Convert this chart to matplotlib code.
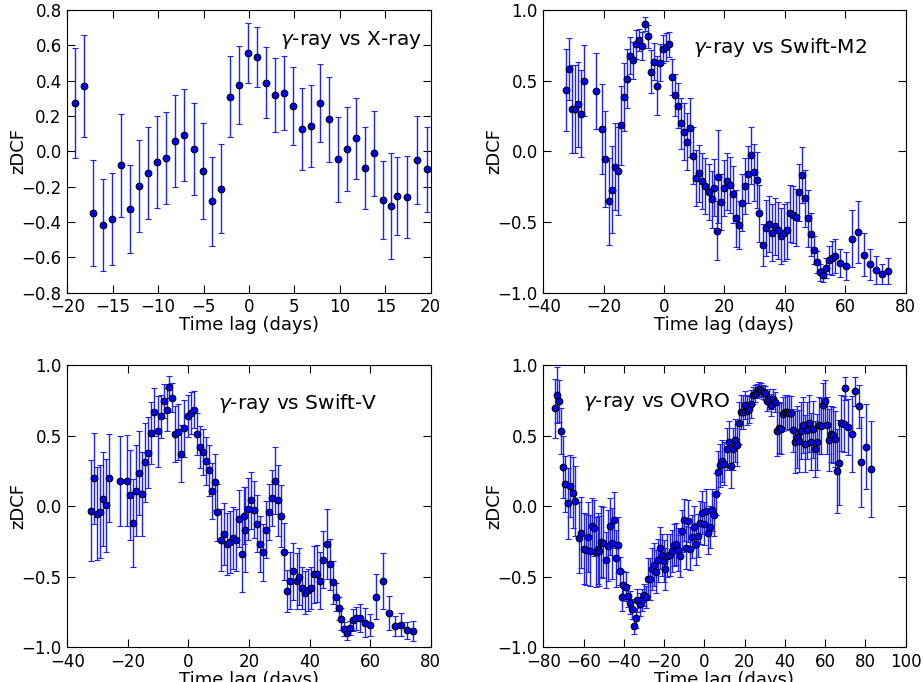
import matplotlib
matplotlib.use("Agg")
import matplotlib.pyplot as plt
import numpy as np

# gamma-ray vs X-ray
xray_lag = [-19.2, -18.2, -17.2, -16.1, -15.1, -14.1, -13.1, -12.1, -11.1, -10.1,
            -9.1, -8.1, -7.1, -6.1, -5.1, -4.1, -3.1, -2.1, -1.1, -0.15,
            0.85, 1.87, 2.86, 3.85, 4.84, 5.8, 6.8, 7.8, 8.8, 9.8,
            10.8, 11.8, 12.8, 13.8, 14.8, 15.6, 16.3, 17.4, 18.5, 19.6]
xray_z = [0.274, 0.37, -0.347, -0.417, -0.385, -0.079, -0.326, -0.194, -0.121, -0.06,
          -0.038, 0.058, 0.094, 0.015, -0.111, -0.283, -0.211, 0.309, 0.377, 0.555,
          0.532, 0.389, 0.321, 0.33, 0.255, 0.126, 0.143, 0.272, 0.181, -0.045,
          0.013, 0.074, -0.094, -0.011, -0.277, -0.308, -0.251, -0.258, -0.049, -0.102]
xray_err = [0.31, 0.29, 0.30, 0.26, 0.26, 0.29, 0.25, 0.26, 0.26, 0.26,
            0.26, 0.26, 0.26, 0.26, 0.27, 0.25, 0.25, 0.23, 0.22, 0.17,
            0.17, 0.20, 0.21, 0.21, 0.22, 0.23, 0.23, 0.22, 0.24, 0.24,
            0.24, 0.23, 0.23, 0.24, 0.22, 0.30, 0.22, 0.23, 0.25, 0.24]

# gamma-ray vs Swift-M2
m2_lag = [-32.5, -31.5, -30.5, -29.4, -28.4, -27.4, -26.4, -22.7, -20.5, -19.4,
          -18.4, -17.4, -16.4, -15.4, -14.4, -13.3, -12.3, -11.3, -10.3, -9.3,
          -8.3, -7.3, -6.3, -5.3, -4.3, -3.2, -2.2, -1.25, -0.26, 0.74,
          1.73, 2.72, 3.72, 4.71, 5.7, 6.7, 7.7, 8.7, 9.7, 10.7,
          11.7, 12.7, 13.7, 14.8, 15.75, 16.7, 17.5, 18.0, 18.7, 19.7,
          20.7, 21.7, 22.7, 23.7, 24.7, 25.7, 26.7, 27.7, 28.7, 29.7,
          30.7, 31.6, 32.6, 33.6, 34.6, 35.6, 36.6, 37.6, 38.6, 39.6,
          40.6, 41.6, 42.6, 43.6, 44.6, 45.6, 46.6, 47.5, 48.5, 49.5,
          50.5, 51.5, 52.5, 53.5, 54.5, 55.5, 56.5, 58.3, 60.2, 62.2,
          64.2, 66.2, 68.2, 70.2, 72.2, 74.3]
m2_z = [0.434, 0.58, 0.30, 0.30, 0.333, 0.267, 0.50, 0.427, 0.16, -0.054,
        -0.354, -0.271, -0.108, -0.137, 0.184, 0.384, 0.514, 0.677, 0.644, 0.757,
        0.788, 0.745, 0.903, 0.814, 0.564, 0.634, 0.465, 0.627, 0.724, 0.738,
        0.757, 0.526, 0.399, 0.323, 0.2, 0.139, 0.068, 0.167, -0.031, -0.19,
        -0.156, -0.208, -0.245, -0.288, -0.34, -0.257, -0.56, -0.18, -0.358, -0.259,
        -0.212, -0.238, -0.304, -0.474, -0.521, -0.363, -0.245, -0.163, -0.028, -0.149,
        -0.203, -0.439, -0.663, -0.542, -0.514, -0.575, -0.531, -0.559, -0.6, -0.575,
        -0.559, -0.439, -0.448, -0.467, -0.29, -0.167, -0.333, -0.474, -0.587, -0.70,
        -0.783, -0.856, -0.877, -0.823, -0.769, -0.752, -0.741, -0.788, -0.809, -0.618,
        -0.571, -0.731, -0.80, -0.84, -0.866, -0.847]
m2_err = [0.29, 0.22, 0.31, 0.31, 0.30, 0.31, 0.25, 0.27, 0.32, 0.34,
          0.31, 0.31, 0.31, 0.31, 0.28, 0.24, 0.21, 0.13, 0.13, 0.10,
          0.08, 0.10, 0.05, 0.08, 0.15, 0.13, 0.21, 0.13, 0.10, 0.10,
          0.09, 0.13, 0.15, 0.16, 0.18, 0.20, 0.20, 0.21, 0.20, 0.20,
          0.20, 0.20, 0.20, 0.20, 0.20, 0.20, 0.21, 0.33, 0.20, 0.20,
          0.20, 0.20, 0.20, 0.20, 0.17, 0.20, 0.20, 0.20, 0.20, 0.20,
          0.20, 0.20, 0.15, 0.20, 0.20, 0.20, 0.20, 0.20, 0.20, 0.20,
          0.20, 0.20, 0.20, 0.20, 0.20, 0.20, 0.20, 0.20, 0.15, 0.10,
          0.08, 0.06, 0.05, 0.07, 0.10, 0.12, 0.12, 0.10, 0.10, 0.20,
          0.22, 0.15, 0.11, 0.10, 0.07, 0.09]

# gamma-ray vs Swift-V
v_lag = [-32.3, -31.3, -30.3, -29.3, -28.3, -27.3, -26.3, -22.6, -20.4, -19.4,
         -18.3, -17.3, -16.3, -15.3, -14.3, -13.3, -12.3, -11.2, -10.2, -9.2,
         -8.2, -7.2, -6.25, -5.3, -4.3, -3.3, -2.3, -1.3, -0.3, 0.7,
         1.7, 2.7, 3.7, 4.7, 5.7, 6.65, 7.65, 8.65, 9.6, 10.6,
         11.6, 12.6, 13.6, 14.6, 15.6, 16.7, 17.7, 18.2, 18.8, 19.7,
         20.7, 21.8, 22.75, 23.7, 24.7, 25.7, 26.7, 27.7, 28.7, 29.7,
         30.7, 31.7, 32.7, 33.7, 34.7, 35.7, 36.65, 37.6, 38.6, 39.6,
         40.6, 41.6, 42.6, 43.6, 44.6, 45.6, 46.6, 47.6, 48.6, 49.6,
         50.5, 51.5, 52.5, 53.5, 54.5, 55.5, 56.5, 58.2, 60.1, 62.1,
         64.1, 66.1, 68.1, 70.1, 72.1, 74.2]
v_z = [-0.032, 0.197, -0.055, -0.039, 0.051, 0.006, 0.2, 0.178, 0.181, 0.081,
       -0.119, 0.11, 0.235, 0.086, 0.31, 0.379, 0.516, 0.669, 0.53, 0.636,
       0.747, 0.684, 0.844, 0.769, 0.511, 0.525, 0.372, 0.551, 0.639, 0.662,
       0.684, 0.509, 0.421, 0.384, 0.318, 0.254, 0.107, 0.171, -0.044, -0.24,
       -0.197, -0.268, -0.254, -0.226, -0.237, -0.088, -0.341, -0.067, -0.166, -0.018,
       0.041, -0.025, -0.124, -0.27, -0.327, -0.166, -0.041, 0.058, 0.181, 0.041,
       -0.067, -0.322, -0.601, -0.528, -0.462, -0.532, -0.499, -0.58, -0.613, -0.596,
       -0.58, -0.483, -0.478, -0.528, -0.379, -0.268, -0.412, -0.54, -0.643, -0.724,
       -0.799, -0.873, -0.901, -0.863, -0.806, -0.795, -0.79, -0.825, -0.842, -0.641,
       -0.53, -0.759, -0.851, -0.839, -0.88, -0.882]
v_err = [0.36, 0.32, 0.33, 0.33, 0.33, 0.33, 0.31, 0.32, 0.32, 0.32,
         0.31, 0.32, 0.30, 0.30, 0.28, 0.25, 0.22, 0.17, 0.25, 0.15,
         0.12, 0.15, 0.08, 0.10, 0.20, 0.20, 0.20, 0.20, 0.15, 0.15,
         0.13, 0.15, 0.15, 0.16, 0.17, 0.18, 0.20, 0.20, 0.20, 0.22,
         0.22, 0.22, 0.22, 0.22, 0.22, 0.20, 0.27, 0.20, 0.30, 0.22,
         0.20, 0.20, 0.20, 0.20, 0.20, 0.20, 0.20, 0.20, 0.24, 0.25,
         0.22, 0.20, 0.15, 0.20, 0.20, 0.20, 0.20, 0.15, 0.15, 0.15,
         0.15, 0.20, 0.20, 0.20, 0.20, 0.25, 0.18, 0.15, 0.10, 0.08,
         0.08, 0.05, 0.05, 0.05, 0.08, 0.08, 0.10, 0.10, 0.08, 0.16,
         0.20, 0.12, 0.07, 0.08, 0.06, 0.07]

# gamma-ray vs OVRO
ovro_lag = [-74.2, -73.0, -72.1, -71.1, -70.1, -69.1, -67.9, -66.9, -65.3, -64.1,
            -62.1, -61.1, -60.0, -58.8, -58.0, -56.8, -56.0, -55.0, -54.0, -53.0,
            -52.2, -51.2, -50.2, -49.0, -48.0, -46.9, -46.1, -45.1, -44.1, -43.1,
            -42.1, -41.1, -40.3, -38.9, -38.1, -37.1, -36.1, -35.1, -34.1, -33.3,
            -32.1, -31.1, -30.2, -29.0, -28.2, -27.0, -26.2, -25.2, -24.2, -23.2,
            -22.2, -21.1, -20.2, -19.4, -18.4, -17.2, -16.2, -15.3, -14.1, -13.1,
            -12.1, -11.1, -10.1, -9.1, -8.1, -7.0, -6.0, -5.2, -4.2, -3.2,
            -2.2, -1.3, -0.2, 1.0, 2.0, 2.8, 3.8, 4.9, 5.9, 6.9,
            7.9, 8.9, 9.9, 11.1, 12.1, 13.1, 14.1, 15.1, 16.0, 17.0,
            18.0, 19.0, 20.0, 21.0, 22.0, 23.0, 24.0, 25.0, 26.0, 27.0,
            28.0, 29.0, 30.0, 31.0, 32.0, 33.0, 34.0, 35.1, 36.1, 37.1,
            38.1, 38.9, 39.9, 40.9, 41.9, 42.9, 44.0, 44.9, 45.9, 46.9,
            47.9, 48.8, 49.8, 50.8, 52.0, 53.0, 54.0, 55.0, 56.0, 56.9,
            58.1, 59.1, 60.1, 60.9, 61.9, 62.9, 63.9, 64.9, 65.9, 66.9,
            68.1, 69.2, 70.0, 71.5, 73.2, 75.0, 77.0, 78.0, 80.1, 82.9]
ovro_z = [0.693, 0.787, 0.745, 0.532, 0.277, 0.155, 0.02, 0.14, 0.096, 0.037,
          -0.223, -0.188, -0.301, -0.308, -0.219, -0.316, -0.139, -0.155, -0.325, -0.301,
          -0.318, -0.252, -0.259, -0.381, -0.28, -0.143, -0.264, -0.098, -0.37, -0.275,
          -0.457, -0.646, -0.558, -0.57, -0.636, -0.684, -0.728, -0.847, -0.79, -0.667,
          -0.695, -0.665, -0.629, -0.643, -0.514, -0.514, -0.447, -0.414, -0.464, -0.384,
          -0.296, -0.348, -0.388, -0.443, -0.35, -0.346, -0.32, -0.277, -0.27, -0.308,
          -0.353, -0.176, -0.098, -0.294, -0.107, -0.301, -0.216, -0.148, -0.266, -0.209,
          -0.117, -0.046, -0.124, -0.032, -0.192, -0.15, -0.025, -0.065, 0.084, 0.242,
          0.289, 0.322, 0.301, 0.405, 0.452, 0.282, 0.403, 0.466, 0.433, 0.587,
          0.665, 0.665, 0.717, 0.677, 0.691, 0.724, 0.785, 0.797, 0.816, 0.83,
          0.823, 0.809, 0.8, 0.747, 0.759, 0.717, 0.759, 0.738, 0.535, 0.556,
          0.549, 0.651, 0.665, 0.669, 0.658, 0.66, 0.537, 0.455, 0.488, 0.462,
          0.535, 0.575, 0.443, 0.537, 0.587, 0.457, 0.544, 0.405, 0.455, 0.573,
          0.566, 0.719, 0.743, 0.573, 0.466, 0.511, 0.506, 0.476, 0.249, 0.308,
          0.589, 0.582, 0.835, 0.561, 0.511, 0.813, 0.707, 0.315, 0.421, 0.263]
ovro_err = [0.21, 0.20, 0.15, 0.16, 0.22, 0.20, 0.25, 0.22, 0.25, 0.25,
            0.25, 0.25, 0.25, 0.25, 0.25, 0.25, 0.20, 0.20, 0.25, 0.25,
            0.25, 0.25, 0.25, 0.20, 0.25, 0.20, 0.25, 0.20, 0.20, 0.20,
            0.10, 0.10, 0.10, 0.10, 0.08, 0.08, 0.07, 0.06, 0.07, 0.08,
            0.08, 0.08, 0.08, 0.08, 0.15, 0.15, 0.15, 0.15, 0.15, 0.15,
            0.15, 0.15, 0.15, 0.15, 0.15, 0.15, 0.15, 0.15, 0.15, 0.15,
            0.15, 0.15, 0.15, 0.15, 0.15, 0.15, 0.15, 0.15, 0.15, 0.15,
            0.15, 0.15, 0.15, 0.15, 0.15, 0.15, 0.15, 0.15, 0.15, 0.15,
            0.15, 0.15, 0.15, 0.15, 0.15, 0.15, 0.15, 0.15, 0.15, 0.15,
            0.12, 0.12, 0.10, 0.10, 0.10, 0.10, 0.06, 0.06, 0.05, 0.05,
            0.05, 0.05, 0.05, 0.07, 0.07, 0.08, 0.07, 0.07, 0.18, 0.18,
            0.18, 0.12, 0.12, 0.12, 0.12, 0.12, 0.15, 0.22, 0.22, 0.22,
            0.20, 0.20, 0.20, 0.20, 0.20, 0.20, 0.20, 0.20, 0.20, 0.20,
            0.20, 0.15, 0.15, 0.20, 0.22, 0.20, 0.20, 0.20, 0.30, 0.30,
            0.20, 0.20, 0.08, 0.20, 0.27, 0.10, 0.15, 0.32, 0.30, 0.34]

panels = [
    (xray_lag, xray_z, xray_err, r"$\gamma$-ray vs X-ray", (-20, 20), (-0.8, 0.8),
     [-20, -15, -10, -5, 0, 5, 10, 15, 20],
     [-0.8, -0.6, -0.4, -0.2, 0.0, 0.2, 0.4, 0.6, 0.8], (0.976, 0.894, "right")),
    (m2_lag, m2_z, m2_err, r"$\gamma$-ray vs Swift-M2", (-40, 80), (-1, 1),
     [-40, -20, 0, 20, 40, 60, 80], [-1.0, -0.5, 0.0, 0.5, 1.0], (0.413, 0.869, "left")),
    (v_lag, v_z, v_err, r"$\gamma$-ray vs Swift-V", (-40, 80), (-1, 1),
     [-40, -20, 0, 20, 40, 60, 80], [-1.0, -0.5, 0.0, 0.5, 1.0], (0.415, 0.865, "left")),
    (ovro_lag, ovro_z, ovro_err, r"$\gamma$-ray vs OVRO", (-80, 100), (-1, 1),
     [-80, -60, -40, -20, 0, 20, 40, 60, 80, 100], [-1.0, -0.5, 0.0, 0.5, 1.0],
     (0.11, 0.869, "left")),
]

positions = [
    [0.0729, 0.5708, 0.3937, 0.4145],
    [0.5886, 0.5708, 0.3926, 0.4145],
    [0.0729, 0.0509, 0.3937, 0.4139],
    [0.5886, 0.0509, 0.3926, 0.4139],
]

fig = plt.figure(figsize=(9.23, 6.82), dpi=100)

for pos, (lag, z, err, title, xl, yl, xt, yt, tpos) in zip(positions, panels):
    ax = fig.add_axes(pos)
    ax.errorbar(lag, z, yerr=err, fmt="o", color="blue", ecolor="#2020ff",
                elinewidth=1, capsize=2.5, capthick=1, markersize=4.8,
                markerfacecolor="blue", markeredgecolor="black", markeredgewidth=0.8)
    ax.set_xlim(*xl)
    ax.set_ylim(*yl)
    ax.set_xticks(xt)
    ax.set_yticks(yt)
    ax.set_yticklabels([("%.1f" % v).replace("-", "\u2212") for v in yt])
    ax.tick_params(direction="in", top=True, right=True, labelsize=12, length=6, pad=4)
    ax.set_xlabel("Time lag (days)", fontsize=13, labelpad=0)
    ax.set_ylabel("zDCF", fontsize=13, labelpad=-4)
    ax.text(tpos[0], tpos[1], title, transform=ax.transAxes, ha=tpos[2],
            va="center", fontsize=14.5)

fig.savefig("out.png", dpi=100)
